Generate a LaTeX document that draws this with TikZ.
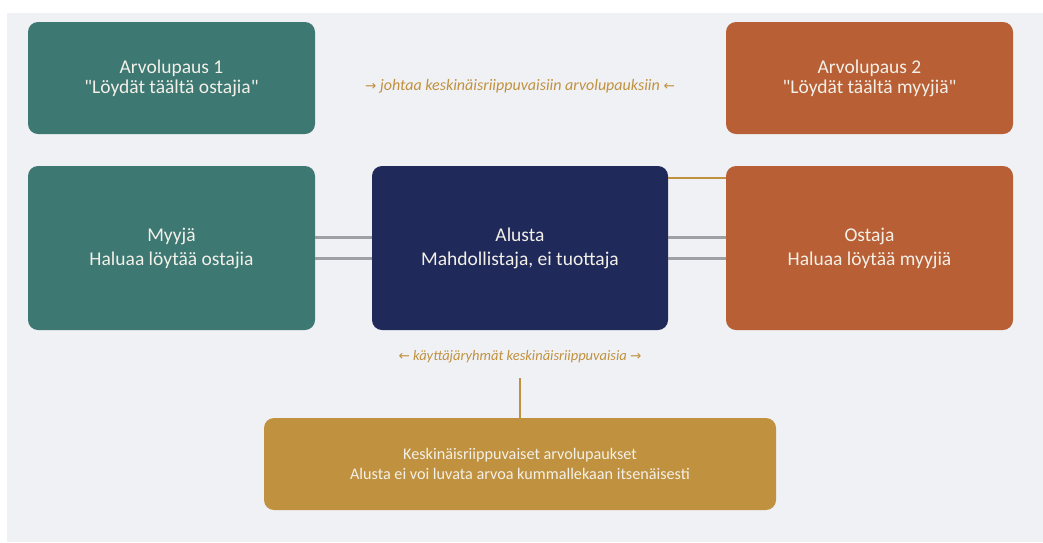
\documentclass[tikz,border=0pt]{standalone}
\usepackage{fontspec}
\setmainfont{Carlito}[Ligatures=TeXOff]
\newfontfamily\arrowfont{DejaVu Sans}
\usetikzlibrary{calc}
\definecolor{bgpanel}{HTML}{F0F1F5}
\definecolor{tealbox}{HTML}{3D7873}
\definecolor{orangebox}{HTML}{B85F35}
\definecolor{navybox}{HTML}{1F2A5A}
\definecolor{goldbox}{HTML}{C0923F}
\definecolor{linegray}{HTML}{9EA0A6}
\definecolor{boxtext}{HTML}{F3F0E8}
\tikzset{
  card/.style={rounded corners=10pt, inner sep=0pt, align=center, text=boxtext,
    font=\fontsize{19.5}{24}\selectfont},
  tealcard/.style={card, fill=tealbox, minimum width=287pt},
  orangecard/.style={card, fill=orangebox, minimum width=287pt},
  note/.style={text=goldbox, font=\fontsize{16}{19}\selectfont\itshape},
  grayline/.style={draw=linegray, line width=2.5pt},
  goldline/.style={draw=goldbox, line width=2.5pt},
}
\newcommand{\ra}{{\arrowfont\upshape\fontsize{13.5}{16}\selectfont→}}
\newcommand{\la}{{\arrowfont\upshape\fontsize{13.5}{16}\selectfont←}}
\newcommand{\dq}{\char"22\relax}
\begin{document}
\begin{tikzpicture}[x=1pt,y=-1pt]
\useasboundingbox (0,0) rectangle (1043,542);
\fill[white] (0,0) rectangle (1043,542);
\fill[bgpanel] (7,13) rectangle (1043,542);

\node[tealcard, minimum height=112pt, font=\fontsize{19.5}{20}\selectfont] (av1) at (171.5,78) {Arvolupaus 1\\\dq Löydät täältä ostajia\dq};
\node[orangecard, minimum height=112pt, font=\fontsize{19.5}{20}\selectfont] (av2) at (869.5,78) {Arvolupaus 2\\\dq Löydät täältä myyjiä\dq};
\node[tealcard, minimum height=164pt] (myyja) at (171.5,248) {Myyjä\\Haluaa löytää ostajia};
\node[card, fill=navybox, minimum width=296pt, minimum height=164pt] (alusta) at (520,248) {Alusta\\Mahdollistaja, ei tuottaja};
\node[orangecard, minimum height=164pt] (ostaja) at (869.5,248) {Ostaja\\Haluaa löytää myyjiä};
\node[card, fill=goldbox, minimum width=512pt, minimum height=92pt, font=\fontsize{16.2}{20}\selectfont] (bottom) at (520,464) {Keskinäisriippuvaiset arvolupaukset\\Alusta ei voi luvata arvoa kummallekaan itsenäisesti};

\node[note] (topnote) at (520,86) {\ra\ johtaa keskinäisriippuvaisiin arvolupauksiin \la};
\node[note, font=\fontsize{14.5}{17}\selectfont\itshape] (midnote) at (520,357) {\la\ käyttäjäryhmät keskinäisriippuvaisia \ra};

\draw[grayline] ($(myyja.east)+(0,-10.5)$) -- ($(alusta.west)+(0,-10.5)$);
\draw[grayline] ($(myyja.east)+(0,10.5)$) -- ($(alusta.west)+(0,10.5)$);
\draw[grayline] ($(alusta.east)+(0,-10.5)$) -- ($(ostaja.west)+(0,-10.5)$);
\draw[grayline] ($(alusta.east)+(0,10.5)$) -- ($(ostaja.west)+(0,10.5)$);
\draw[goldline] ($(alusta.north east)+(0,12)$) -- ($(ostaja.north west)+(0,12)$);
\coordinate (stemtop) at (520,378);
\draw[goldline] (bottom.north) -- (stemtop);
\end{tikzpicture}
\end{document}
